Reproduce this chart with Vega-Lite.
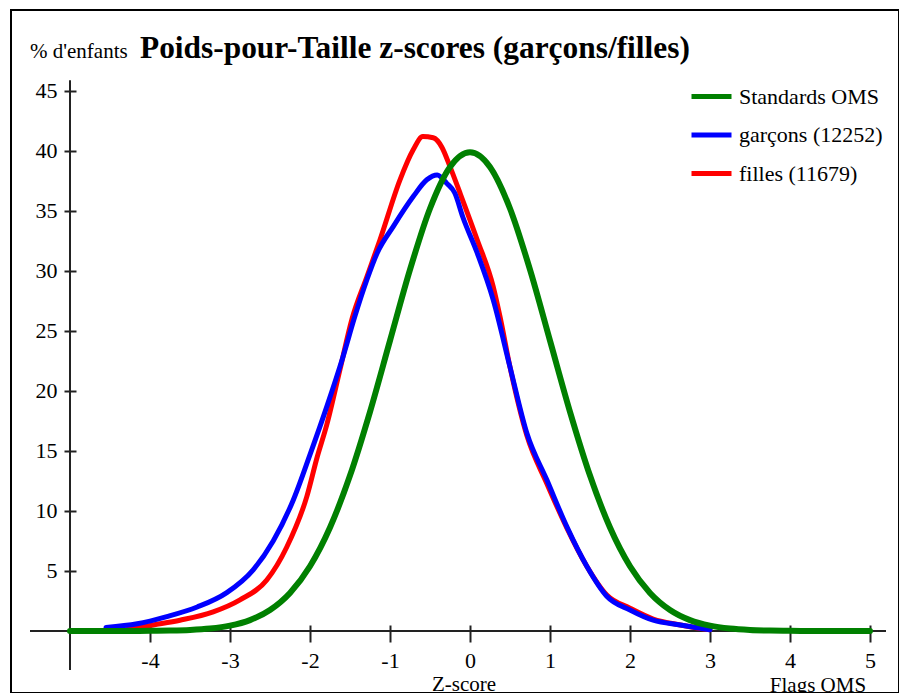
{
  "$schema": "https://vega.github.io/schema/vega-lite/v6.json",
  "autosize": "none",
  "width": 888,
  "height": 683,
  "padding": {"left": 11, "top": 10, "right": 0, "bottom": 0},
  "background": "white",
  "config": {
    "view": {"stroke": "#000000", "strokeWidth": 2},
    "font": "Liberation Serif",
    "axis": {
      "labelFont": "Liberation Serif",
      "labelFontSize": 22,
      "labelColor": "#000000",
      "tickColor": "#222222",
      "tickWidth": 2,
      "grid": false,
      "domain": false
    },
    "legend": {
      "labelFont": "Liberation Serif",
      "labelFontSize": 22,
      "labelColor": "#000000",
      "symbolType": "stroke",
      "symbolSize": 1600,
      "symbolStrokeWidth": 5,
      "labelOffset": 5,
      "rowPadding": 4.5
    }
  },
  "datasets": {
    "oms": [
      {"z": -5, "pct": 0.0001, "serie": "Standards OMS"},
      {"z": -4.75, "pct": 0.0005, "serie": "Standards OMS"},
      {"z": -4.5, "pct": 0.002, "serie": "Standards OMS"},
      {"z": -4.25, "pct": 0.005, "serie": "Standards OMS"},
      {"z": -4, "pct": 0.013, "serie": "Standards OMS"},
      {"z": -3.75, "pct": 0.035, "serie": "Standards OMS"},
      {"z": -3.5, "pct": 0.087, "serie": "Standards OMS"},
      {"z": -3.25, "pct": 0.203, "serie": "Standards OMS"},
      {"z": -3, "pct": 0.443, "serie": "Standards OMS"},
      {"z": -2.75, "pct": 0.909, "serie": "Standards OMS"},
      {"z": -2.5, "pct": 1.753, "serie": "Standards OMS"},
      {"z": -2.25, "pct": 3.174, "serie": "Standards OMS"},
      {"z": -2, "pct": 5.399, "serie": "Standards OMS"},
      {"z": -1.75, "pct": 8.628, "serie": "Standards OMS"},
      {"z": -1.5, "pct": 12.952, "serie": "Standards OMS"},
      {"z": -1.25, "pct": 18.265, "serie": "Standards OMS"},
      {"z": -1, "pct": 24.197, "serie": "Standards OMS"},
      {"z": -0.75, "pct": 30.114, "serie": "Standards OMS"},
      {"z": -0.5, "pct": 35.207, "serie": "Standards OMS"},
      {"z": -0.25, "pct": 38.667, "serie": "Standards OMS"},
      {"z": 0, "pct": 39.894, "serie": "Standards OMS"},
      {"z": 0.25, "pct": 38.667, "serie": "Standards OMS"},
      {"z": 0.5, "pct": 35.207, "serie": "Standards OMS"},
      {"z": 0.75, "pct": 30.114, "serie": "Standards OMS"},
      {"z": 1, "pct": 24.197, "serie": "Standards OMS"},
      {"z": 1.25, "pct": 18.265, "serie": "Standards OMS"},
      {"z": 1.5, "pct": 12.952, "serie": "Standards OMS"},
      {"z": 1.75, "pct": 8.628, "serie": "Standards OMS"},
      {"z": 2, "pct": 5.399, "serie": "Standards OMS"},
      {"z": 2.25, "pct": 3.174, "serie": "Standards OMS"},
      {"z": 2.5, "pct": 1.753, "serie": "Standards OMS"},
      {"z": 2.75, "pct": 0.909, "serie": "Standards OMS"},
      {"z": 3, "pct": 0.443, "serie": "Standards OMS"},
      {"z": 3.25, "pct": 0.203, "serie": "Standards OMS"},
      {"z": 3.5, "pct": 0.087, "serie": "Standards OMS"},
      {"z": 3.75, "pct": 0.035, "serie": "Standards OMS"},
      {"z": 4, "pct": 0.013, "serie": "Standards OMS"},
      {"z": 4.25, "pct": 0.005, "serie": "Standards OMS"},
      {"z": 4.5, "pct": 0.002, "serie": "Standards OMS"},
      {"z": 4.75, "pct": 0.0005, "serie": "Standards OMS"},
      {"z": 5, "pct": 0.0001, "serie": "Standards OMS"}
    ],
    "garcons": [
      {"z": -4.55, "pct": 0.3, "serie": "garçons (12252)"},
      {"z": -4.16, "pct": 0.6, "serie": "garçons (12252)"},
      {"z": -3.79, "pct": 1.2, "serie": "garçons (12252)"},
      {"z": -3.41, "pct": 2.0, "serie": "garçons (12252)"},
      {"z": -3.04, "pct": 3.2, "serie": "garçons (12252)"},
      {"z": -2.71, "pct": 5.1, "serie": "garçons (12252)"},
      {"z": -2.46, "pct": 7.5, "serie": "garçons (12252)"},
      {"z": -2.21, "pct": 10.9, "serie": "garçons (12252)"},
      {"z": -2.0, "pct": 14.7, "serie": "garçons (12252)"},
      {"z": -1.79, "pct": 18.7, "serie": "garçons (12252)"},
      {"z": -1.59, "pct": 22.8, "serie": "garçons (12252)"},
      {"z": -1.44, "pct": 26.2, "serie": "garçons (12252)"},
      {"z": -1.29, "pct": 29.25, "serie": "garçons (12252)"},
      {"z": -1.16, "pct": 31.5, "serie": "garçons (12252)"},
      {"z": -0.96, "pct": 33.7, "serie": "garçons (12252)"},
      {"z": -0.71, "pct": 36.2, "serie": "garçons (12252)"},
      {"z": -0.54, "pct": 37.6, "serie": "garçons (12252)"},
      {"z": -0.41, "pct": 38.0, "serie": "garçons (12252)"},
      {"z": -0.29, "pct": 37.3, "serie": "garçons (12252)"},
      {"z": -0.19, "pct": 36.5, "serie": "garçons (12252)"},
      {"z": -0.09, "pct": 34.5, "serie": "garçons (12252)"},
      {"z": 0.09, "pct": 31.5, "serie": "garçons (12252)"},
      {"z": 0.29, "pct": 27.6, "serie": "garçons (12252)"},
      {"z": 0.5, "pct": 22.0, "serie": "garçons (12252)"},
      {"z": 0.71, "pct": 16.5, "serie": "garçons (12252)"},
      {"z": 0.96, "pct": 12.6, "serie": "garçons (12252)"},
      {"z": 1.21, "pct": 8.7, "serie": "garçons (12252)"},
      {"z": 1.46, "pct": 5.4, "serie": "garçons (12252)"},
      {"z": 1.71, "pct": 2.9, "serie": "garçons (12252)"},
      {"z": 2.0, "pct": 1.75, "serie": "garçons (12252)"},
      {"z": 2.29, "pct": 0.9, "serie": "garçons (12252)"},
      {"z": 2.63, "pct": 0.5, "serie": "garçons (12252)"},
      {"z": 3.0, "pct": 0.1, "serie": "garçons (12252)"}
    ],
    "filles": [
      {"z": -4.3, "pct": 0.1, "serie": "filles (11679)"},
      {"z": -3.96, "pct": 0.5, "serie": "filles (11679)"},
      {"z": -3.625, "pct": 0.9, "serie": "filles (11679)"},
      {"z": -3.21, "pct": 1.6, "serie": "filles (11679)"},
      {"z": -2.875, "pct": 2.6, "serie": "filles (11679)"},
      {"z": -2.54, "pct": 4.25, "serie": "filles (11679)"},
      {"z": -2.29, "pct": 7.0, "serie": "filles (11679)"},
      {"z": -2.04, "pct": 11.2, "serie": "filles (11679)"},
      {"z": -1.91, "pct": 14.5, "serie": "filles (11679)"},
      {"z": -1.79, "pct": 17.2, "serie": "filles (11679)"},
      {"z": -1.625, "pct": 21.8, "serie": "filles (11679)"},
      {"z": -1.475, "pct": 26.0, "serie": "filles (11679)"},
      {"z": -1.29, "pct": 29.5, "serie": "filles (11679)"},
      {"z": -1.125, "pct": 32.6, "serie": "filles (11679)"},
      {"z": -0.875, "pct": 37.6, "serie": "filles (11679)"},
      {"z": -0.71, "pct": 40.1, "serie": "filles (11679)"},
      {"z": -0.59, "pct": 41.2, "serie": "filles (11679)"},
      {"z": -0.46, "pct": 41.1, "serie": "filles (11679)"},
      {"z": -0.35, "pct": 40.3, "serie": "filles (11679)"},
      {"z": -0.25, "pct": 38.7, "serie": "filles (11679)"},
      {"z": -0.125, "pct": 36.5, "serie": "filles (11679)"},
      {"z": 0.09, "pct": 32.6, "serie": "filles (11679)"},
      {"z": 0.29, "pct": 28.7, "serie": "filles (11679)"},
      {"z": 0.375, "pct": 26.2, "serie": "filles (11679)"},
      {"z": 0.5, "pct": 22.0, "serie": "filles (11679)"},
      {"z": 0.71, "pct": 16.3, "serie": "filles (11679)"},
      {"z": 0.96, "pct": 12.3, "serie": "filles (11679)"},
      {"z": 1.21, "pct": 8.6, "serie": "filles (11679)"},
      {"z": 1.46, "pct": 5.4, "serie": "filles (11679)"},
      {"z": 1.71, "pct": 3.0, "serie": "filles (11679)"},
      {"z": 2.0, "pct": 1.9, "serie": "filles (11679)"},
      {"z": 2.29, "pct": 1.0, "serie": "filles (11679)"},
      {"z": 2.63, "pct": 0.5, "serie": "filles (11679)"},
      {"z": 3.0, "pct": 0.1, "serie": "filles (11679)"}
    ]
  },
  "layer": [
    {
      "data": {"values": [{}]},
      "mark": {"type": "rule", "color": "#222222", "strokeWidth": 2},
      "encoding": {
        "x": {"datum": -5.5, "type": "quantitative", "scale": {"domain": [-5.7375, 5.3625], "nice": false, "zero": false}, "axis": {"title": null, "values": [-4, -3, -2, -1, 0, 1, 2, 3, 4, 5], "offset": -68, "tickSize": 17, "labelPadding": 8, "labelExpr": "'' + datum.value"}},
        "x2": {"datum": 5.2},
        "y": {"datum": 0, "type": "quantitative", "scale": {"domain": [-5.1667, 51.75], "nice": false, "zero": false}, "axis": {"title": null, "values": [5, 10, 15, 20, 25, 30, 35, 40, 45], "offset": -65, "tickSize": 12, "labelPadding": 7, "labelExpr": "'' + datum.value"}}
      }
    },
    {
      "data": {"values": [{}]},
      "mark": {"type": "rule", "color": "#222222", "strokeWidth": 2},
      "encoding": {
        "x": {"datum": -5, "type": "quantitative", "axis": {"title": null, "values": [-4, -3, -2, -1, 0, 1, 2, 3, 4, 5], "offset": -68, "tickSize": 17, "labelPadding": 8, "labelExpr": "'' + datum.value"}},
        "y": {"datum": -3.25, "type": "quantitative", "axis": {"title": null, "values": [5, 10, 15, 20, 25, 30, 35, 40, 45], "offset": -65, "tickSize": 12, "labelPadding": 7, "labelExpr": "'' + datum.value"}},
        "y2": {"datum": 45.9}
      }
    },
    {
      "data": {"name": "filles"},
      "mark": {"type": "line", "strokeWidth": 5, "interpolate": "monotone", "strokeCap": "round"},
      "encoding": {
        "x": {"field": "z", "type": "quantitative", "axis": {"title": null, "values": [-4, -3, -2, -1, 0, 1, 2, 3, 4, 5], "offset": -68, "tickSize": 17, "labelPadding": 8, "labelExpr": "'' + datum.value"}},
        "y": {"field": "pct", "type": "quantitative", "axis": {"title": null, "values": [5, 10, 15, 20, 25, 30, 35, 40, 45], "offset": -65, "tickSize": 12, "labelPadding": 7, "labelExpr": "'' + datum.value"}},
        "color": {"field": "serie", "type": "nominal", "scale": {"domain": ["Standards OMS", "garçons (12252)", "filles (11679)"], "range": ["#008000", "#0000ff", "#ff0000"]}, "legend": {"title": null, "orient": "none", "legendX": 678, "legendY": 64}}
      }
    },
    {
      "data": {"name": "garcons"},
      "mark": {"type": "line", "strokeWidth": 5, "interpolate": "monotone", "strokeCap": "round"},
      "encoding": {
        "x": {"field": "z", "type": "quantitative", "axis": {"title": null, "values": [-4, -3, -2, -1, 0, 1, 2, 3, 4, 5], "offset": -68, "tickSize": 17, "labelPadding": 8, "labelExpr": "'' + datum.value"}},
        "y": {"field": "pct", "type": "quantitative", "axis": {"title": null, "values": [5, 10, 15, 20, 25, 30, 35, 40, 45], "offset": -65, "tickSize": 12, "labelPadding": 7, "labelExpr": "'' + datum.value"}},
        "color": {"field": "serie", "type": "nominal", "scale": {"domain": ["Standards OMS", "garçons (12252)", "filles (11679)"], "range": ["#008000", "#0000ff", "#ff0000"]}, "legend": {"title": null, "orient": "none", "legendX": 678, "legendY": 64}}
      }
    },
    {
      "data": {"name": "oms"},
      "mark": {"type": "line", "strokeWidth": 6, "interpolate": "monotone", "strokeCap": "round"},
      "encoding": {
        "x": {"field": "z", "type": "quantitative", "axis": {"title": null, "values": [-4, -3, -2, -1, 0, 1, 2, 3, 4, 5], "offset": -68, "tickSize": 17, "labelPadding": 8, "labelExpr": "'' + datum.value"}},
        "y": {"field": "pct", "type": "quantitative", "axis": {"title": null, "values": [5, 10, 15, 20, 25, 30, 35, 40, 45], "offset": -65, "tickSize": 12, "labelPadding": 7, "labelExpr": "'' + datum.value"}},
        "color": {"field": "serie", "type": "nominal", "scale": {"domain": ["Standards OMS", "garçons (12252)", "filles (11679)"], "range": ["#008000", "#0000ff", "#ff0000"]}, "legend": {"title": null, "orient": "none", "legendX": 678, "legendY": 64}}
      }
    },
    {
      "data": {"values": [{}]},
      "mark": {"type": "text", "text": "% d'enfants", "fontSize": 21, "align": "left", "baseline": "alphabetic", "color": "#000000", "font": "Liberation Serif"},
      "encoding": {
        "x": {"datum": -5.5, "type": "quantitative", "axis": {"title": null, "values": [-4, -3, -2, -1, 0, 1, 2, 3, 4, 5], "offset": -68, "tickSize": 17, "labelPadding": 8, "labelExpr": "'' + datum.value"}},
        "y": {"datum": 47.75, "type": "quantitative", "axis": {"title": null, "values": [5, 10, 15, 20, 25, 30, 35, 40, 45], "offset": -65, "tickSize": 12, "labelPadding": 7, "labelExpr": "'' + datum.value"}}
      }
    },
    {
      "data": {"values": [{}]},
      "mark": {"type": "text", "text": "Poids-pour-Taille z-scores (garçons/filles)", "fontSize": 31.4, "fontWeight": "bold", "align": "left", "baseline": "alphabetic", "color": "#000000", "font": "Liberation Serif"},
      "encoding": {
        "x": {"datum": -4.125, "type": "quantitative", "axis": {"title": null, "values": [-4, -3, -2, -1, 0, 1, 2, 3, 4, 5], "offset": -68, "tickSize": 17, "labelPadding": 8, "labelExpr": "'' + datum.value"}},
        "y": {"datum": 47.75, "type": "quantitative", "axis": {"title": null, "values": [5, 10, 15, 20, 25, 30, 35, 40, 45], "offset": -65, "tickSize": 12, "labelPadding": 7, "labelExpr": "'' + datum.value"}}
      }
    },
    {
      "data": {"values": [{}]},
      "mark": {"type": "text", "text": "Z-score", "fontSize": 21, "align": "center", "baseline": "top", "color": "#000000", "font": "Liberation Serif"},
      "encoding": {
        "x": {"datum": -0.075, "type": "quantitative", "axis": {"title": null, "values": [-4, -3, -2, -1, 0, 1, 2, 3, 4, 5], "offset": -68, "tickSize": 17, "labelPadding": 8, "labelExpr": "'' + datum.value"}},
        "y": {"datum": -3.55, "type": "quantitative", "axis": {"title": null, "values": [5, 10, 15, 20, 25, 30, 35, 40, 45], "offset": -65, "tickSize": 12, "labelPadding": 7, "labelExpr": "'' + datum.value"}}
      }
    },
    {
      "data": {"values": [{}]},
      "mark": {"type": "text", "text": "Flags OMS", "fontSize": 21, "align": "center", "baseline": "top", "color": "#000000", "font": "Liberation Serif"},
      "encoding": {
        "x": {"datum": 4.35, "type": "quantitative", "axis": {"title": null, "values": [-4, -3, -2, -1, 0, 1, 2, 3, 4, 5], "offset": -68, "tickSize": 17, "labelPadding": 8, "labelExpr": "'' + datum.value"}},
        "y": {"datum": -3.65, "type": "quantitative", "axis": {"title": null, "values": [5, 10, 15, 20, 25, 30, 35, 40, 45], "offset": -65, "tickSize": 12, "labelPadding": 7, "labelExpr": "'' + datum.value"}}
      }
    }
  ]
}
